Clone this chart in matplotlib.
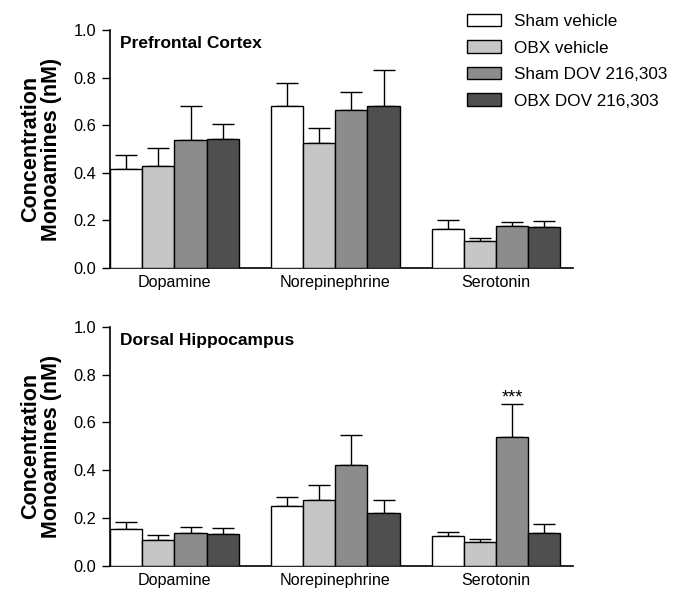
import matplotlib
matplotlib.use("Agg")
import matplotlib.pyplot as plt
import numpy as np

plt.rcParams['font.family'] = ['Liberation Sans', 'DejaVu Sans']

categories = ["Dopamine", "Norepinephrine", "Serotonin"]
groups = ["Sham vehicle", "OBX vehicle", "Sham DOV 216,303", "OBX DOV 216,303"]
colors = ["#ffffff", "#c6c6c6", "#8c8c8c", "#4f4f4f"]

# Prefrontal cortex: means and upper error bar (SEM)
pfc_mean = {
    "Sham vehicle": [0.414, 0.680, 0.164],
    "OBX vehicle": [0.429, 0.526, 0.115],
    "Sham DOV 216,303": [0.537, 0.666, 0.175],
    "OBX DOV 216,303": [0.541, 0.682, 0.170],
}
pfc_sem = {
    "Sham vehicle": [0.060, 0.098, 0.036],
    "OBX vehicle": [0.073, 0.063, 0.011],
    "Sham DOV 216,303": [0.143, 0.072, 0.017],
    "OBX DOV 216,303": [0.066, 0.150, 0.028],
}
# Dorsal hippocampus
dh_mean = {
    "Sham vehicle": [0.154, 0.251, 0.126],
    "OBX vehicle": [0.108, 0.276, 0.098],
    "Sham DOV 216,303": [0.136, 0.422, 0.538],
    "OBX DOV 216,303": [0.132, 0.221, 0.137],
}
dh_sem = {
    "Sham vehicle": [0.029, 0.039, 0.017],
    "OBX vehicle": [0.022, 0.063, 0.013],
    "Sham DOV 216,303": [0.028, 0.124, 0.140],
    "OBX DOV 216,303": [0.028, 0.055, 0.037],
}
yticks = [0.0, 0.2, 0.4, 0.6, 0.8, 1.0]

fig = plt.figure(figsize=(6.8, 5.9), dpi=100)
ax1 = fig.add_axes([0.162, 0.546, 0.681, 0.403])
ax2 = fig.add_axes([0.162, 0.041, 0.681, 0.405])

def draw(ax, means, sems, title, stars=None):
    x0 = np.arange(len(categories)) * 5
    handles = []
    for i, g in enumerate(groups):
        x = x0 + i + 0.5
        b = ax.bar(x, means[g], width=1.0, color=colors[i], edgecolor="black",
                   linewidth=1.0, zorder=3, label=g)
        handles.append(b)
        ax.errorbar(x, means[g], yerr=[np.zeros(len(x)), sems[g]], fmt="none",
                    ecolor="black", elinewidth=1.0, capsize=8, capthick=1.0, zorder=2)
    ax.set_xlim(0, 14.4)
    ax.set_ylim(0, 1.0)
    ax.set_yticks(yticks)
    ax.set_yticklabels([f"{t:.1f}" for t in yticks], fontsize=11.8)
    ax.set_xticks(x0 + 2)
    ax.set_xticklabels(categories, fontsize=11.6)
    ax.tick_params(axis="x", length=0, pad=5)
    ax.tick_params(axis="y", length=6, width=1.0, direction="out", pad=4)
    for s in ["top", "right"]:
        ax.spines[s].set_visible(False)
    for s in ["left", "bottom"]:
        ax.spines[s].set_linewidth(1.2)
    ax.text(0.3, 0.945, title, fontsize=12.5, fontweight="bold", va="center", ha="left",
            transform=ax.get_xaxis_transform())
    ax.set_ylabel("Concentration\nMonoamines (nM)", fontsize=15.5, fontweight="bold",
                  labelpad=8, linespacing=0.98)
    if stars is not None:
        gi, ci = stars
        xs = ci * 5 + gi + 0.5
        top = means[groups[gi]][ci] + sems[groups[gi]][ci]
        ax.text(xs, top + 0.025, "***", ha="center", va="center", fontsize=13)
    return handles

h = draw(ax1, pfc_mean, pfc_sem, "Prefrontal Cortex")
draw(ax2, dh_mean, dh_sem, "Dorsal Hippocampus", stars=(2, 2))

fig.legend(handles=h, labels=groups, loc="upper left", bbox_to_anchor=(0.677, 0.988),
           frameon=False, fontsize=12.3, handlelength=2.0, handleheight=0.75,
           labelspacing=0.66, handletextpad=0.72, borderaxespad=0)

fig.savefig("out.png", dpi=100)
